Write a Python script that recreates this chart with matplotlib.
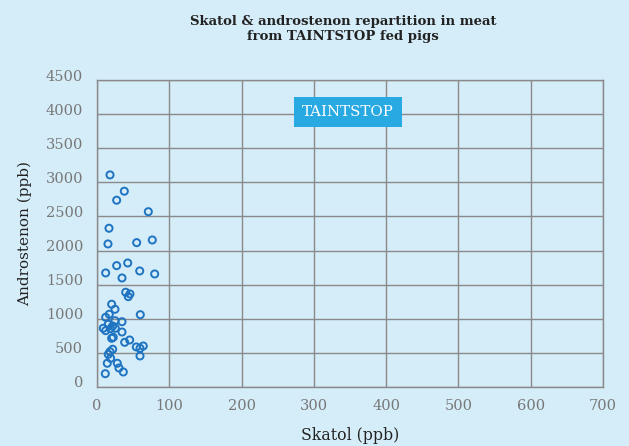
import matplotlib.pyplot as plt
from matplotlib.transforms import ScaledTranslation

# Skatol (ppb) / Androstenon (ppb)
skatol = [18, 37.8, 27.2, 71, 16.6, 15.2, 54.9, 76.5,
          12, 27.2, 42.5, 59.1, 79.8, 34.6, 39.7, 45.6, 43.3, 20.3,
          24.9, 17, 12, 59.9, 24.9, 34.6, 15.6, 21.7, 25.3, 8.7,
          12, 18.9, 34.6, 22.5, 20.3, 45.2, 38.3, 54.4, 59.5, 64,
          59.5, 21.7, 18, 15.6, 18.9, 14.2, 28.1, 30.4, 36.4, 11.5]
androstenon = [3109, 2870, 2738, 2570, 2327, 2097, 2116, 2155,
               1672, 1779, 1818, 1701, 1657, 1598, 1389, 1364, 1324, 1213,
               1139, 1066, 1022, 1060, 972, 957, 919, 894, 861, 861,
               826, 855, 806, 729, 714, 689, 655, 587, 567, 601,
               455, 553, 518, 479, 421, 348, 348, 279, 220, 195]

x_ticks = list(range(0, 701, 100))
y_ticks = list(range(0, 4501, 500))

bg = "#d5edf9"
grid_col = "#8a8a8a"
serif = ["DejaVu Serif"]

fig = plt.figure(figsize=(6.29, 4.46), dpi=100, facecolor=bg)
ax = fig.add_axes([0.1542, 0.1323, 0.8045, 0.6883], facecolor=bg)

ax.scatter(skatol, androstenon, s=26, facecolors="none",
           edgecolors="#1f74c1", linewidths=1.4, zorder=3)

ax.set_xlim(0, 700)
ax.set_ylim(0, 4500)
ax.set_xticks(x_ticks)
ax.set_yticks(y_ticks)
ax.set_xticklabels([str(v) for v in x_ticks], family=serif, fontsize=10.5, color="#777777")
ax.set_yticklabels([str(v) for v in y_ticks], family=serif, fontsize=10.5, color="#777777")
ax.tick_params(axis="x", length=0, pad=9)
ax.tick_params(axis="y", length=0, pad=10)
# labels in the reference sit a bit above the grid lines
shift = ScaledTranslation(0, 0.05, fig.dpi_scale_trans)
for lab in ax.get_yticklabels():
    lab.set_transform(lab.get_transform() + shift)
ax.grid(True, color=grid_col, linewidth=1.0)
ax.set_axisbelow(True)
for s in ax.spines.values():
    s.set_color(grid_col)
    s.set_linewidth(1.0)

ax.set_xlabel("Skatol (ppb)", family=serif, fontsize=11.3, color="#222222", labelpad=10)
ax.set_ylabel("Androstenon (ppb)", family=serif, fontsize=11, color="#222222", labelpad=10)

fig.text(0.545, 0.935, "Skatol & androstenon repartition in meat\nfrom TAINTSTOP fed pigs",
         ha="center", va="center", family=serif, fontsize=9.5, fontweight="bold",
         color="#222222", linespacing=1.25)

ax.text(347, 4032, "TAINTSTOP", ha="center", va="center", family=serif,
        fontsize=10.8, color="white", zorder=4,
        bbox=dict(boxstyle="square,pad=0.55", facecolor="#29a9e1", edgecolor="none"))

fig.savefig("out.png", dpi=100, facecolor=bg)
